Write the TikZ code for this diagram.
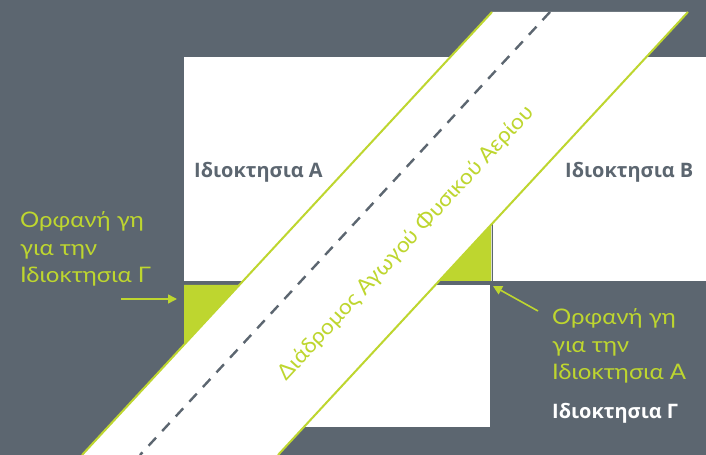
\documentclass[tikz,border=0pt]{standalone}
\usepackage{fontspec}
\setmainfont{Lato}
\newfontfamily\widefont[FakeStretch=1.12]{Lato}
\newfontfamily\routefont[FakeStretch=1.06]{Lato}
\newfontfamily\ownerfont{Open Sans}
\usetikzlibrary{arrows.meta}
\definecolor{slate}{RGB}{92,102,112}
\definecolor{lime}{RGB}{190,214,47}
\tikzset{
	orphan/.style={text=lime,font=\widefont\fontsize{21.5}{28}\selectfont,align=left,anchor=north west,inner sep=0pt},
	owner/.style={font=\ownerfont\bfseries\fontsize{20}{22}\selectfont,anchor=base west,inner sep=0pt},
	pointer/.style={draw=lime,line width=1.6bp,-{Triangle[length=9bp,width=9bp]}},
	edge/.style={draw=lime,line width=2bp}
}
\begin{document}
\begin{tikzpicture}[x=1bp,y=-1bp]
	\fill[slate] (0,0) rectangle (706,455);
	\useasboundingbox (0,0) rectangle (706,455);
	\clip (0,0) rectangle (706,455);
	% parcels
	\fill[white] (184,57) rectangle (491,281);
	\fill[white] (493,57) rectangle (706,281);
	\fill[white] (184,285) rectangle (490,427);
	\draw[black!12,line width=.8bp] (491.7,57) -- (491.7,281);
	% orphan land
	\fill[lime] (184,285) -- (239.5,285) -- (184,345) -- cycle;
	\fill[lime] (491,281) -- (439,281) -- (491,225) -- cycle;
	% pipeline corridor
	\coordinate (pL) at (492,12);
	\coordinate (pR) at (688,12);
	\coordinate (qL) at (82,455);
	\coordinate (qR) at (278,455);
	\fill[white] (pL) -- (pR) -- (qR) -- (qL) -- cycle;
	\draw[edge] (pL) -- (qL);
	\draw[edge] (pR) -- (qR);
	\draw[slate,line width=2.4bp,dash pattern=on 11bp off 9bp] (550,12) -- (140,455);
	\node[rotate=47.2,text=lime,font=\routefont\fontsize{21.5}{24}\selectfont,inner sep=0pt] (route) at (406,243) {Διάδρομος Αγωγού Φυσικού Αερίου};
	% labels
	\node[owner,text=slate] (ownA) at (194,178) {Ιδιοκτησια Α};
	\node[owner,text=slate] (ownB) at (565,178) {Ιδιοκτησια Β};
	\node[owner,text=white] (ownG) at (552,418) {Ιδιοκτησια Γ};
	\node[orphan] (orphG) at (20,211) {Ορφανή γη\\για την\\Ιδιοκτησια Γ};
	\node[orphan] (orphA) at (552,308) {Ορφανή γη\\για την\\Ιδιοκτησια Α};
	% pointers
	\coordinate (gTail) at (121,299);
	\coordinate (gTip) at (177,299);
	\coordinate (aTail) at (538,311);
	\coordinate (aTip) at (493,286);
	\draw[pointer] (gTail) -- (gTip);
	\draw[pointer] (aTail) -- (aTip);
\end{tikzpicture}
\end{document}
